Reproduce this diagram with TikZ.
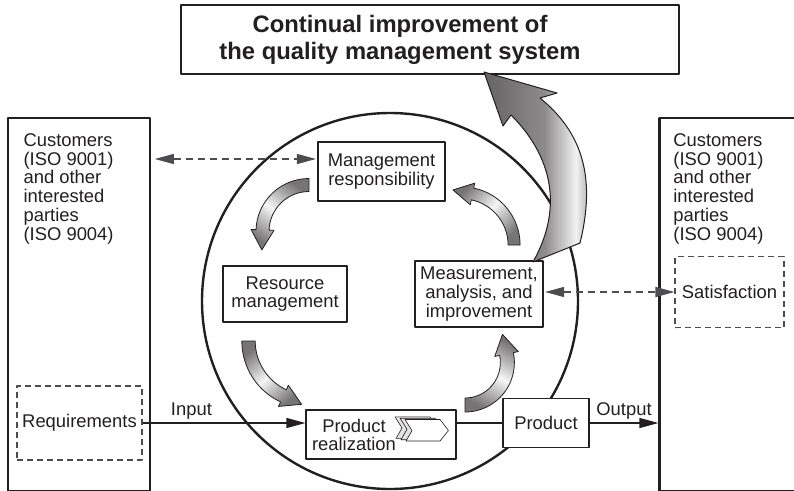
\documentclass[tikz,border=0pt]{standalone}
\usepackage{fontspec}
\setmainfont{Liberation Sans}
\usepackage{xcolor}
\usepackage{tikz}
\usetikzlibrary{calc, positioning, arrows.meta}
\definecolor{Ink}{HTML}{231F20}
\definecolor{DashInk}{HTML}{4D4D4F}
\colorlet{TubeDark}{Ink!62}
\colorlet{TubeLight}{Ink!4}
\colorlet{ChevronBack}{Ink!12}

% light streak on the right half of the big arrow
\pgfdeclarehorizontalshading{bigtube}{100bp}{color(0bp)=(Ink!70); color(25bp)=(Ink!70); color(52bp)=(Ink!52); color(66bp)=(Ink!6); color(75bp)=(Ink!48); color(100bp)=(Ink!48)}

\tikzset{
    stagebox/.style = {draw = Ink, fill = white, line width = 1.2pt, align = center, inner sep = 0pt},
    partybox/.style = {draw = Ink, fill = white, line width = 2.2pt, inner sep = 0pt},
    dashbox/.style  = {draw = DashInk, line width = 1.1pt, dash pattern = on 6pt off 4pt, inner sep = 0pt},
    dashline/.style = {draw = DashInk, line width = 1.2pt, dash pattern = on 7pt off 5pt},
    flowline/.style = {draw = Ink, line width = 1.2pt},
    bend tube/.style = {draw = Ink, line width = 0.8pt, left color = TubeDark, right color = TubeDark, middle color = TubeLight},
}

% #1,#2 centre  #3 radius  #4 from  #5 to  #6 half width  #7 shading angle
\newcommand{\bendarrow}[7]{%
    \pgfmathsetmacro\tubeout{#3 + #6}
    \pgfmathsetmacro\tubein{#3 - #6}
    \pgfmathsetmacro\barbout{#3 + #6 + 5}
    \pgfmathsetmacro\barbin{#3 - #6 - 5}
    \pgfmathsetmacro\tipx{#3*cos(#5) + 20*sin(#5)}
    \pgfmathsetmacro\tipy{#3*sin(#5) - 20*cos(#5)}
    \path[bend tube, shading angle = #7, shift = {(#1, #2)}]
        (#4:\tubeout) arc (#4:#5:\tubeout) -- (#5:\barbout) -- (\tipx, \tipy)
        -- (#5:\barbin) -- (#5:\tubein) arc (#5:#4:\tubein) -- cycle;
}

\begin{document}
\begin{tikzpicture}[x = 1pt, y = -1pt, line join = round, color = Ink,
                    font = \fontsize{18.4}{18.7}\selectfont,
                    >= {Triangle[length = 19pt, width = 10pt]}]
    \useasboundingbox (0, 0) rectangle (794, 490);

    \node[partybox, line width = 2pt, minimum width = 498, minimum height = 69] (cip) at (430, 39.5) {};
    \node[font = \bfseries\fontsize{23.8}{27}\selectfont, align = center] (ciptext) at (400, 40)
        {Continual improvement of\\the quality management system};

    \node[partybox, minimum width = 142.4, minimum height = 373] (leftbox) at (79, 304.3) {};
    \node[partybox, minimum width = 143, minimum height = 373] (rightbox) at (731, 304.3) {};
    \node[anchor = north west, align = left, inner sep = 0pt] (lefttext) at (23.4, 133.5)
        {Customers\\(ISO 9001)\\and other\\interested\\parties\\(ISO 9004)};
    \node[anchor = north west, align = left, inner sep = 0pt] (righttext) at (673.2, 133.5)
        {Customers\\(ISO 9001)\\and other\\interested\\parties\\(ISO 9004)};
    \node[dashbox, minimum width = 125, minimum height = 74] (req) at (79.5, 423) {Requirements};
    \node[dashbox, minimum width = 109, minimum height = 71] (sat) at (729.5, 292) {Satisfaction};

    % the process loop
    \draw[line width = 2.4pt] (390, 301) circle [radius = 188];

    \node[stagebox, minimum width = 127, minimum height = 59] (mgmt) at (381.5, 171.5) {Management\\responsibility};
    \node[stagebox, minimum width = 124, minimum height = 56] (res) at (285, 294) {Resource\\management};
    \node[stagebox, minimum width = 128, minimum height = 66] (meas) at (479, 294) {Measurement,\\analysis, and\\improvement};
    \node[stagebox, minimum width = 150, minimum height = 49] (prodreal) at (381, 434.5) {};
    \node[inner sep = 0pt, align = center] (prodrealtext) at (354, 435) {Product\\realization};
    \node[stagebox, minimum width = 86, minimum height = 49] (product) at (546, 423) {Product};

    % stacked chevrons
    \foreach \dx/\dy/\fillc in {-10/-2.6/ChevronBack, -5/-1.3/ChevronBack, 0/0/white}
        \path[draw = Ink, line width = 0.6pt, fill = \fillc, shift = {(\dx, \dy)}]
            (405, 419.5) -- (440, 419.5) -- (448.5, 430.5) -- (440, 441) -- (406, 441) -- (412, 430.5) -- cycle;

    % flow along the bottom
    \draw[flowline, ->] (req.east) -- (req.east -| prodreal.west) node[pos = 0.3, above] {Input};
    \draw[flowline] (req.east -| prodreal.east) -- (product.west);
    \draw[flowline, ->] (product.east) -- (product.east -| rightbox.west) node[midway, above] {Output};

    % information flow
    \coordinate (mgmtin) at ([yshift = 12.5pt]mgmt.west);
    \draw[dashline, <->, shorten <= 3.5pt, shorten >= 1.5pt] (mgmtin -| leftbox.east) -- (mgmtin);
    \draw[dashline, <->, shorten <= 1.5pt] (sat.west -| meas.east) -- (sat.west);

    % turning arrows inside the loop
    \bendarrow{309}{231.5}{46.5}{270}{182}{6.5}{-35}
    \bendarrow{309}{341}{60.5}{180}{115}{6.7}{40}
    \bendarrow{465}{362.6}{42.4}{90}{-11.7}{7}{-28}
    \bendarrow{462}{245}{52.1}{0}{-78.4}{6}{48}

    % improvement arrow up to the top box
    \path[draw = Ink, line width = 1pt, shading = bigtube]
        (533, 262) -- (580, 243)
        .. controls (596, 178) and (582.7, 132.8) .. (540, 98)
        -- (557, 93) -- (484, 72) -- (503, 126) -- (511, 115)
        .. controls (550, 154) and (565, 205) .. (533, 262) -- cycle;
\end{tikzpicture}
\end{document}
